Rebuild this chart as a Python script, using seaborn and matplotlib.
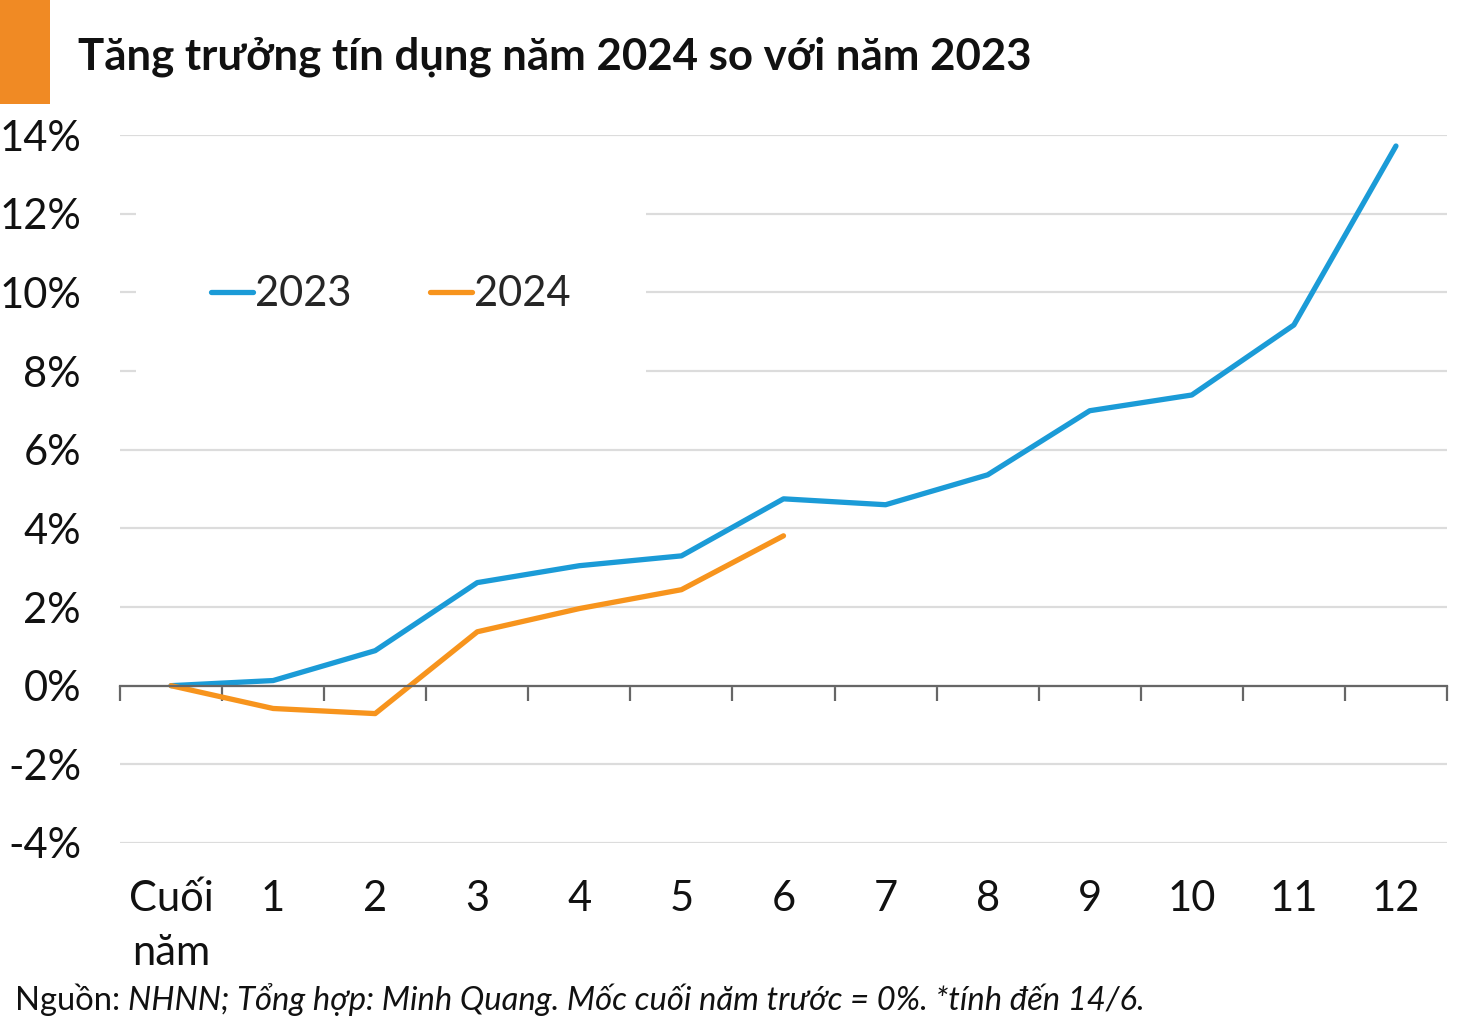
import numpy as np
import pandas as pd
import seaborn as sns
import matplotlib.pyplot as plt
from matplotlib.patches import Rectangle

# data (% growth vs end of previous year)
months = ['Cuối\nnăm', '1', '2', '3', '4', '5', '6', '7', '8', '9', '10', '11', '12']
growth_2023 = [0.0, 0.13, 0.89, 2.62, 3.05, 3.30, 4.75, 4.60, 5.36, 6.99, 7.39, 9.17, 13.72]
growth_2024 = [0.0, -0.58, -0.71, 1.37, 1.96, 2.44, 3.81]
y_ticks = [-4, -2, 0, 2, 4, 6, 8, 10, 12, 14]

TITLE = 'Tăng trưởng tín dụng năm 2024 so với năm 2023'
SOURCE_LEAD = 'Nguồn: '
SOURCE_REST = 'NHNN; Tổng hợp: Minh Quang. Mốc cuối năm trước = 0%. *tính đến 14/6.'

df = pd.DataFrame({
    'month': months + months[:len(growth_2024)],
    'value': growth_2023 + growth_2024,
    'year': ['2023'] * len(growth_2023) + ['2024'] * len(growth_2024),
})

sns.set_theme(style='white')
plt.rcParams['font.family'] = ['Lato', 'DejaVu Sans']

W, H = 1476, 1034
fig = plt.figure(figsize=(W / 100, H / 100), dpi=100)
ax = fig.add_axes([120 / W, 1 - 843 / H, 1327 / W, 708 / H])

palette = {'2023': '#1B9BD7', '2024': '#F7941D'}
sns.lineplot(data=df, x='month', y='value', hue='year', palette=palette,
             sort=False, estimator=None, errorbar=None, lw=3.8, ax=ax)

ax.set_xlim(-0.5, len(months) - 0.5)
ax.set_ylim(-4, 14)
ax.set_xlabel('')
ax.set_ylabel('')

# horizontal grid
ax.yaxis.grid(True, color='#DCDCDC', lw=1.6)
ax.set_axisbelow(True)
for s in ['top', 'right', 'left']:
    ax.spines[s].set_visible(False)

# zero axis with category boundary ticks
ax.spines['bottom'].set_position(('data', 0))
ax.spines['bottom'].set_color('#666666')
ax.spines['bottom'].set_linewidth(1.6)
ax.set_xticks(range(len(months)))
ax.set_xticklabels(months, fontsize=30, color='#111111', linespacing=1.5, va='top')
ax.set_xticks(np.arange(-0.5, len(months)), minor=True)
ax.tick_params(axis='x', which='major', length=0, pad=140)
ax.tick_params(axis='x', which='minor', length=11, width=1.6, color='#666666',
               direction='out', bottom=True)

ax.set_yticks(y_ticks)
ax.set_yticklabels([f'{v}%' for v in y_ticks], fontsize=30, color='#111111')
ax.tick_params(axis='y', length=0, pad=28)

handles, labels = ax.get_legend_handles_labels()
leg = ax.legend(handles, labels, ncol=2, loc='center', bbox_to_anchor=(0.204, 0.775),
                fontsize=30, frameon=True, facecolor='white', edgecolor='none',
                framealpha=1, fancybox=False, borderpad=1.8, handlelength=1.0,
                handletextpad=0.05, columnspacing=1.9)
leg.set_zorder(5)

# title block
fig.add_artist(Rectangle((0, 1 - 104 / H), 50 / W, 104 / H,
                         transform=fig.transFigure, color='#F08A24', lw=0))
fig.text(78 / W, 1 - 57 / H, TITLE, fontsize=31.5, weight='bold', va='center', color='#111111')

# source line
t1 = fig.text(15 / W, 1 - 1016 / H, SOURCE_LEAD, fontsize=23.6, va='bottom', color='#111111')
ax.annotate(SOURCE_REST, xy=(1, 0), xycoords=t1, va='bottom', ha='left',
            fontsize=23.6, style='italic', color='#111111', annotation_clip=False)

fig.savefig('out.png', dpi=100)
